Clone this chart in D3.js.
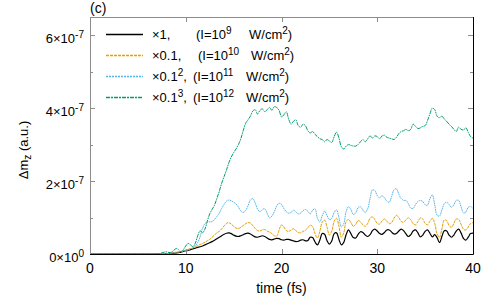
<!DOCTYPE html>
<html>
<head>
<meta charset="utf-8">
<script src="https://cdn.jsdelivr.net/npm/d3@7"></script>
<style>
  body { margin: 0; background: #fff; }
  svg { display: block; font-family: "Liberation Sans", Arial, sans-serif; }
</style>
</head>
<body>
<div id="chart"></div>
<script>
// data, values in units of 1e-8 a.u., sampled every 0.25 fs from 0 to 40 fs
const TIME = d3.range(0, 40.001, 0.25);
const UNIT = 1e-8;

const ZEROS_7 = [0,0,0,0,0,0,0,0, 0,0,0,0,0,0,0,0, 0,0,0,0,0,0,0,0, 0,0,0,0];

const BLACK = ZEROS_7.concat([0,0,0,0,
  0.1,0.15,0.2,0.25,0.3,0.4,0.5,0.7,
  0.9,1.0,1.2,1.4,1.6,1.8,2.0,2.2,
  2.5,2.8,3.1,3.4,3.8,4.2,4.6,5.0,
  5.4,5.7,5.8,5.6,5.2,4.9,4.8,5.0,
  5.3,5.6,5.7,5.5,5.1,4.7,4.6,4.8,
  5.0,4.8,4.4,4.0,3.9,4.1,4.3,4.2,
  3.9,3.8,4.0,4.0,3.8,3.6,3.4,3.5,
  3.8,3.9,3.6,3.7,4.6,4.5,3.3,2.5,
  3.8,5.6,5.4,3.7,2.7,3.6,5.6,5.8,
  4.0,2.5,3.2,5.3,6.6,5.6,4.5,4.4,
  5.4,6.1,5.9,5.2,4.8,5.3,6.4,6.8,
  6.3,5.6,5.4,5.9,6.6,6.6,6.0,5.5,
  5.6,6.3,6.8,6.4,5.5,4.8,5.3,6.3,
  6.6,5.8,4.7,5.2,6.2,6.6,5.7,4.7,
  5.3,4.5,3.1,4.8,6.4,6.3,5.2,4.6,
  5.2,6.3,6.8,5.8,4.3,3.8,4.6,5.6,
  5.7]);

const ORANGE = ZEROS_7.concat([0,0,0,0,
  0.1,0.15,0.25,0.3,0.4,0.5,0.7,0.9,
  1.1,1.3,1.5,1.7,2.0,2.3,2.6,2.9,
  3.2,3.6,4.0,4.6,5.2,5.8,6.2,6.9,
  7.7,8.4,8.6,8.2,7.6,7.1,7.0,7.3,
  7.8,8.3,8.6,8.5,7.8,7.0,6.4,6.3,
  6.6,6.7,6.3,6.0,5.6,5.0,4.9,6.6,
  8.0,7.4,6.4,6.2,6.6,6.9,6.4,5.9,
  5.8,6.2,6.5,7.2,7.9,7.5,5.6,4.4,
  6.2,8.7,9.3,7.4,5.2,6.3,9.0,9.8,
  7.6,4.6,5.8,8.9,9.5,8.6,7.6,8.1,
  9.2,8.8,8.0,7.6,8.4,9.8,10.2,9.4,
  8.4,8.2,9.1,9.6,9.0,8.3,8.6,9.8,
  10.6,10.0,8.9,8.7,9.4,9.9,9.4,8.3,
  8.0,8.9,9.9,9.6,8.4,8.0,9.0,9.8,
  8.4,5.5,4.6,6.9,9.3,9.2,7.8,7.3,
  8.4,9.6,9.5,8.2,6.8,6.6,7.4,8.4,
  8.6]);

const BLUE = ZEROS_7.concat([0,0,0,0,
  0.1,0.2,0.3,0.4,0.5,0.6,0.7,0.8,
  0.9,1.1,1.4,1.7,2.2,3.2,4.7,7.0,
  8.3,8.8,8.8,8.9,9.5,10.3,11.2,12.5,
  13.6,14.5,14.8,14.6,14.2,13.7,12.9,11.8,
  11.4,11.9,13.2,14.8,15.2,14.0,12.3,11.6,
  12.2,12.4,11.2,9.9,10.4,11.6,13.2,13.9,
  13.6,12.5,11.6,11.2,11.4,12.0,11.6,11.0,
  11.2,11.9,12.2,11.7,11.0,12.0,12.4,9.8,
  8.8,10.4,11.8,10.6,9.4,9.8,11.4,12.1,
  10.0,7.4,8.3,11.6,13.0,12.2,10.8,11.3,
  12.7,13.0,12.0,11.4,12.4,15.2,17.6,17.4,
  16.0,15.4,16.0,15.4,14.5,14.2,15.8,17.6,
  17.9,16.4,15.2,14.7,14.7,13.8,12.6,12.5,
  13.6,14.4,14.7,14.4,13.5,13.4,15.2,16.2,
  13.6,10.6,10.4,12.1,13.8,14.2,13.6,12.8,
  13.5,14.7,14.7,13.0,11.3,11.5,12.8,13.0,
  12.5]);

const GREEN = ZEROS_7.concat([0,0.1,0.3,0.5,
  0.6,0.4,0.5,1.0,1.5,1.2,0.6,1.2,
  2.2,2.9,2.5,2.0,3.0,5.0,6.4,5.8,
  6.8,9.0,11.0,12.2,13.4,15.2,17.2,19.4,
  21.2,23.0,25.0,26.6,27.8,28.8,30.0,31.6,
  33.8,35.8,36.8,37.8,39.2,39.6,38.4,39.4,
  39.8,39.0,39.6,40.2,39.4,40.4,40.2,39.4,
  37.6,38.2,39.0,37.0,35.6,36.4,36.8,35.2,
  34.8,35.6,35.2,33.8,33.2,33.6,32.8,32.2,
  31.6,31.4,30.8,31.4,31.0,30.6,32.2,33.4,
  31.8,29.4,28.8,29.6,30.0,29.8,29.6,29.6,
  30.0,30.8,31.4,30.8,31.6,32.4,31.8,32.4,
  32.2,31.6,32.4,32.6,32.0,31.8,31.6,31.4,
  32.0,33.0,33.6,33.8,34.2,33.8,34.2,35.6,
  35.0,34.4,34.6,35.0,35.2,36.6,38.4,40.0,
  39.6,37.8,37.4,37.8,37.0,36.4,35.6,35.0,
  34.2,33.6,34.8,34.2,34.0,34.6,33.4,32.2,
  31.8]);

const SERIES_NAMES = ["×1,", "×0.1,", "×0.1", "×0.1"];
const SERIES_POW = ["", "", "2", "3"];
const INTENSITY_EXP = ["9", "10", "11", "12"];
const SERIES_COLORS = ["#000000", "#E69F00", "#56B4E9", "#009E73"];
const SERIES_DASH = [null, "3,0.8", "1.6,0.7", "4,0.8,1.5,0.8"];
const LEGEND_DASH = [null, "3,1", "2,1", "4,1,2,1"];

const X_TICKS = [0, 10, 20, 30, 40];
const Y_TICKS = [0, 2e-7, 4e-7, 6e-7];
const Y_MINOR = [1e-7, 3e-7, 5e-7];
const Y_TICK_MANT = ["0", "2", "4", "6"];
const Y_TICK_EXP = ["0", "-7", "-7", "-7"];

// frame
const WIDTH = 498, HEIGHT = 299;
const PLOT = { left: 90, right: 473, top: 17, bottom: 254 };
const GRAY = "#8c8c8c";

const svg = d3.select("#chart").append("svg")
    .attr("width", WIDTH)
    .attr("height", HEIGHT);

const X_SCALE = d3.scaleLinear().domain([0, 40]).range([PLOT.left, PLOT.right]);
const Y_SCALE = d3.scaleLinear().domain([0, 6.5e-7]).range([PLOT.bottom, PLOT.top]);

svg.append("clipPath").attr("id", "clip")
    .append("rect")
    .attr("x", PLOT.left).attr("y", PLOT.top)
    .attr("width", PLOT.right - PLOT.left)
    .attr("height", PLOT.bottom - PLOT.top);

// curves
const allSeries = [BLACK, ORANGE, BLUE, GREEN];
const line = d3.line()
    .x((d, i) => X_SCALE(TIME[i]))
    .y((d) => Y_SCALE(d * UNIT))
    .curve(d3.curveCatmullRom);

svg.append("g").attr("clip-path", "url(#clip)")
    .selectAll("path")
    .data(allSeries)
    .enter()
    .append("path")
    .attr("d", (d) => line(d))
    .attr("fill", "none")
    .attr("stroke", (d, i) => SERIES_COLORS[i])
    .attr("stroke-width", (d, i) => i === 0 ? 1.2 : 1)
    .attr("stroke-dasharray", (d, i) => SERIES_DASH[i]);

// ticks (inward, mirrored)
const ticks = svg.append("g").attr("stroke", GRAY).attr("stroke-width", 1);
X_TICKS.forEach((t) => {
    const x = Math.round(X_SCALE(t)) + 0.5;
    ticks.append("line").attr("x1", x).attr("x2", x).attr("y1", PLOT.bottom).attr("y2", PLOT.bottom - 5);
    ticks.append("line").attr("x1", x).attr("x2", x).attr("y1", PLOT.top).attr("y2", PLOT.top + 5);
});
Y_TICKS.concat(Y_MINOR).forEach((v, k) => {
    const y = Math.round(Y_SCALE(v)) + 0.5;
    const len = k < Y_TICKS.length ? 5 : 3;
    ticks.append("line").attr("x1", PLOT.left).attr("x2", PLOT.left + len).attr("y1", y).attr("y2", y);
    ticks.append("line").attr("x1", PLOT.right).attr("x2", PLOT.right - len).attr("y1", y).attr("y2", y);
});

// border: left/top gray, right/bottom black
svg.append("path")
    .attr("d", `M${PLOT.left + 0.5},${PLOT.bottom}V${PLOT.top + 0.5}H${PLOT.right}`)
    .attr("fill", "none").attr("stroke", GRAY);
svg.append("path")
    .attr("d", `M${PLOT.left},${PLOT.bottom + 0.5}H${PLOT.right + 0.5}V${PLOT.top}`)
    .attr("fill", "none").attr("stroke", "#000");

// tick labels
svg.append("g").selectAll("text")
    .data(X_TICKS)
    .enter()
    .append("text")
    .attr("x", (d) => X_SCALE(d))
    .attr("y", 273)
    .attr("text-anchor", "middle")
    .attr("font-size", 14)
    .text((d) => d);

const yLabels = svg.append("g").selectAll("text")
    .data(Y_TICKS)
    .enter()
    .append("text")
    .attr("x", 84)
    .attr("y", (d) => Y_SCALE(d) + 8)
    .attr("text-anchor", "end")
    .attr("font-size", 13);
yLabels.append("tspan").text((d, i) => Y_TICK_MANT[i] + "×10");
yLabels.append("tspan").attr("dy", -5).attr("font-size", 10).text((d, i) => Y_TICK_EXP[i]);

// axis titles
svg.append("text")
    .attr("x", (PLOT.left + PLOT.right) / 2)
    .attr("y", 293)
    .attr("text-anchor", "middle")
    .attr("font-size", 14)
    .text("time (fs)");

const yTitle = svg.append("text")
    .attr("transform", "translate(28,150) rotate(-90)")
    .attr("text-anchor", "middle")
    .attr("font-size", 13);
yTitle.append("tspan").text("Δm");
yTitle.append("tspan").attr("dy", 3).attr("font-size", 10).text("z");
yTitle.append("tspan").attr("dy", -3).text(" (a.u.)");

svg.append("text")
    .attr("x", 90)
    .attr("y", 13)
    .attr("font-size", 14)
    .text("(c)");

// legend
const LEGEND_Y = [34.5, 55.5, 76.5, 97.5];
const LEGEND_PAREN_X = [196, 198, 193, 193];
const legend = svg.append("g");
SERIES_NAMES.forEach((name, i) => {
    const y = LEGEND_Y[i];
    legend.append("line")
        .attr("x1", 106).attr("x2", 143)
        .attr("y1", y).attr("y2", y)
        .attr("stroke", SERIES_COLORS[i])
        .attr("stroke-width", 1.3)
        .attr("stroke-dasharray", LEGEND_DASH[i]);
    const lab = legend.append("text")
        .attr("x", 152).attr("y", y + 4.5)
        .attr("font-size", 13);
    lab.append("tspan").text(name);
    if (SERIES_POW[i]) {
        lab.append("tspan").attr("dy", -5).attr("font-size", 10).text(SERIES_POW[i]);
        lab.append("tspan").attr("dy", 5).text(",");
    }
    const par = legend.append("text")
        .attr("x", LEGEND_PAREN_X[i]).attr("y", y + 4.5)
        .attr("font-size", 13);
    par.append("tspan").text("(I=10");
    par.append("tspan").attr("dy", -5).attr("font-size", 10).text(INTENSITY_EXP[i]);
    par.append("tspan").attr("dy", 5).attr("x", LEGEND_PAREN_X[i] + 53).text("W/cm");
    par.append("tspan").attr("dy", -5).attr("font-size", 10).text("2");
    par.append("tspan").attr("dy", 5).text(")");
});
</script>
</body>
</html>
